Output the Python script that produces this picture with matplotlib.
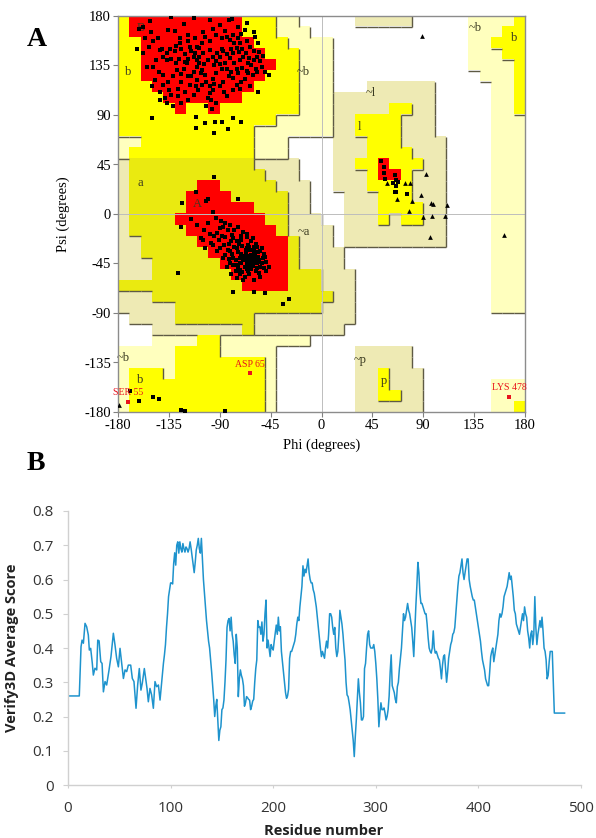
import numpy as np
import matplotlib
matplotlib.use("Agg")
import matplotlib.pyplot as plt
from matplotlib.colors import ListedColormap
from matplotlib.collections import LineCollection

plt.rcParams['axes.unicode_minus'] = False

# ---------------- Panel A data: Ramachandran region map (10 deg cells) -------------
# rows from psi 180 (top) down to -180, columns phi -180 .. 180
region_rows = [
    "Y" + "R"*10 + "YYY" + "LL" + "....." + "KKKKK" + "....." + "LLLL" + "Y",
    "Y" + "R"*10 + "YYY" + "LLL" + "."*14 + "LLL" + "YY",
    "YY" + "R"*10 + "YYY" + "LLLL" + "."*12 + "LL" + "YYY",
    "YY" + "R"*11 + "YYY" + "LLL" + "."*12 + "LLL" + "YY",
    "YY" + "R"*12 + "YY" + "LLL" + "."*12 + "LLLL" + "Y",
    "YY" + "R"*11 + "YYY" + "LLL" + "."*13 + "LLL" + "Y",
    "YYY" + "R"*9 + "YYYY" + "LLL" + "..." + "KKKKKK" + "....." + "LL" + "Y",
    "YYYY" + "R"*7 + "YYYYY" + "LLL" + "K"*9 + "....." + "LL" + "Y",
    "YYYYY" + "R" + "YY" + "R" + "YYYYYYY" + "LLL" + "KKKKK" + "YY" + "KK" + "....." + "LL" + "Y",
    "Y"*14 + "LLLLL" + "KK" + "YYYY" + "KKK" + "....." + "LLL",
    "Y"*12 + "L"*7 + "KK" + "YYYY" + "KKK" + "....." + "LLL",
    "LL" + "Y"*10 + "LLL" + "...." + "KKK" + "YYY" + "KKKK" + "...." + "LLL",
    "L" + "Y"*11 + "LLL" + "...." + "KKK" + "YYYY" + "KKK" + "...." + "LLL",
    "K" + "y"*11 + "KKKK" + "..." + "KK" + "YY" + "R" + "YYY" + "KK" + "...." + "LLL",
    "K" + "y"*12 + "KKK" + "..." + "KKK" + "Y" + "RR" + "Y" + "KKK" + "...." + "LLL",
    "K" + "y"*6 + "RR" + "y"*5 + "KKK" + ".." + "KKK" + "YYYY" + "KKK" + "...." + "LLL",
    "K" + "y"*5 + "RRRR" + "y"*5 + "KK" + "..." + "KKK" + "YYY" + "KKK" + "...." + "LLL",
    "K" + "y"*5 + "R"*6 + "yyy" + "KK" + "..." + "KKK" + "YYYY" + "KK" + "...." + "LLL",
    "K" + "yyyy" + "R"*8 + "yy" + "KKK" + ".." + "KKK" + "Y" + "K" + "YY" + "KK" + "...." + "LLL",
    "K" + "y"*5 + "R"*8 + "y" + "KKKK" + "." + "K"*9 + "...." + "LLL",
    "KK" + "y"*5 + "R"*8 + "y" + "KKK" + "." + "K"*9 + "...." + "LLL",
    "KK" + "y"*6 + "R"*7 + "y" + "KKKK" + "."*13 + "LLL",
    "KKK" + "y"*6 + "R"*6 + "y" + "KKKK" + "."*13 + "LLL",
    "KKK" + "y"*7 + "R"*5 + "yyy" + "KKK" + "."*12 + "LLL",
    "y"*11 + "RRRR" + "yyy" + "KKK" + "."*12 + "LLL",
    "KKK" + "y"*16 + "KK" + "."*12 + "LLL",
    "K"*5 + "y"*13 + "KKK" + "."*12 + "LLL",
    "." + "KKKK" + "y"*7 + "K"*9 + "."*15,
    "..." + "K"*8 + "y" + "K"*8 + "."*16,
    "..." + "LLLL" + "YY" + "L"*8 + "."*19,
    "LLLLL" + "YYYY" + "LLLLL" + "."*7 + "KKKKK" + "."*10,
    "L"*5 + "Y"*8 + "L" + "."*7 + "K"*5 + "."*10,
    "L" + "YYY" + "L" + "Y"*8 + "L" + "."*7 + "KK" + "Y" + "KKK" + "."*9,
    "L" + "Y"*12 + "L" + "."*7 + "KK" + "Y" + "KKK" + "."*6 + "LLL",
    "L" + "Y"*12 + "L" + "."*7 + "KK" + "YY" + "KK" + "."*6 + "LLL",
    "L" + "Y"*12 + "L" + "."*7 + "K"*6 + "."*6 + "LL" + "Y",
]
region_codes = [".", "L", "K", "y", "Y", "R"]
region_colors = ["#FFFFFF", "#FFFFBE", "#EEEAB4", "#EAEA10", "#FFFF00", "#FF0000"]
region_level = {".": 0, "L": 1, "K": 1, "y": 2, "Y": 2, "R": 3}

region_labels = ["B", "b", "~b", "a", "A", "~a", "~l", "l", "~b", "b", "~b", "b", "~p", "p"]
region_label_phi = [-160, -171, -16, -160, -110, -16, 44, 34, 136, 170, -175, -160, 34, 55]
region_label_psi = [169, 129, 129, 28, 9, -16, 110, 79, 169, 160, -131, -151, -133, -152]

# residues in core beta region (non-gly, squares)
phi_beta = [-133, -113, -82, -79, -152, -158, -161, -151, -136, -130, -149, -153, -158, -143, -140, -137,
            -134, -130, -125, -124, -121, -118, -116, -115, -113, -110, -108, -119, -122, -128, -131, -136,
            -140, -143, -138, -133, -127, -124, -118, -113, -110, -106, -103, -102, -99, -96, -93, -88,
            -85, -81, -78, -75, -72, -85, -84, -81, -78, -74, -71, -68, -66, -63, -60, -57, -54, -53, -50,
            -56, -59, -69, -72, -77, -75, -80, -82, -87, -90, -96, -99, -100, -102, -97, -93, -84, -78,
            -75, -71, -68, -65, -63, -56, -46, -57, -65, -105, -108, -99, -96, -93, -90, -87, -99, -103,
            -106, -110, -146, -149, -144, -140, -147, -150, -143, -137, -131, -124, -118, -113, -109, -106,
            -110, -116, -121, -127,
            -100, -95, -92, -88, -84, -80, -77, -73, -70, -67, -64, -62, -60, -58, -66, -70, -74, -78, -84,
            -90, -104, -108, -112, -118, -121, -126, -129, -133, -137, -141, -129, -125, -118, -112, -105,
            -96, -90, -88, -93, -74, -66, -60, -55, -52, -61, -72, -86, -98, -135, -145, -156, -163, -154,
            -122, -99, -107, -115, -124, -111, -95,
            -150, -111, -103, -94, -88, -78, -71, -111, -95, -83]
psi_beta = [179, 178, 176, 177, 175, 170, 168, 165, 167, 166, 157, 152, 146, 149, 143, 140,
            150, 148, 155, 150, 145, 157, 152, 148, 143, 140, 137, 137, 132, 131, 125, 120,
            117, 111, 105, 108, 114, 120, 125, 129, 134, 131, 126, 120, 116, 123, 128, 132,
            137, 142, 146, 151, 155, 166, 161, 158, 163, 160, 164, 167, 157, 152, 148, 143, 139, 134, 129,
            155, 161, 143, 140, 137, 132, 129, 125, 120, 116, 113, 110, 105, 98, 95, 101, 107, 113,
            117, 120, 123, 128, 116, 111, 126, 129, 137, 146, 151, 149, 143, 139, 143, 148, 157, 161,
            155, 152, 140, 134, 129, 126, 122, 116, 104, 101, 98, 101, 104, 108, 113, 117,
            122, 117, 111, 107,
            140, 135, 146, 150, 145, 150, 155, 147, 150, 146, 142, 135, 140, 132, 130, 133, 128, 124, 132,
            136, 136, 143, 146, 141, 138, 141, 137, 141, 146, 150, 153, 160, 163, 160, 165,
            168, 172, 160, 163, 170, 174, 165, 147, 144, 126, 114, 111, 104, 113, 160, 160, 150, 134,
            173, 176, 128, 125, 127, 116, 118,
            87, 88, 83, 84, 84, 87, 84, 78, 74, 77]

# residues in alpha region (non-gly, squares)
phi_alpha = [-96, -124, -90, -85, -81, -77, -74, -69, -85, -91, -105, -103, -82, -78, -71, -66, -62, -57,
             -54, -50, -46, -49, -54, -60, -68, -72, -75, -78, -81, -85, -90, -96, -75, -71, -66, -62, -59,
             -63, -66, -69, -71, -65, -57, -53, -56, -60, -81, -76, -72,
             -127, -78, -60, -50, -34, -29, -95, -74, -123, -111, -102, -100,
             -64, -62, -60, -67, -69, -58, -61, -66, -70, -63, -57, -55, -59, -65, -68, -72, -74, -76, -62,
             -58, -54, -52, -56, -60, -65, -70, -73, -77, -79, -83, -86, -80, -88, -92, -95, -99, -83, -87,
             -79, -66, -71, -61, -58, -53, -51, -49, -51, -55, -64, -70, -74, -78, -82, -67, -63, -59, -61,
             -66, -72, -56, -68, -64, -75, -104, -110, -100, -93, -89, -115, -107, -98, -92, -87, -84, -80,
             -75, -69]
psi_alpha = [2, -12, -13, -8, -10, -15, -12, -16, -21, -24, -24, -31, -27, -22, -24, -21, -25, -30,
             -34, -39, -48, -52, -57, -60, -57, -51, -46, -40, -34, -37, -31, -28, -31, -36, -31, -37, -43,
             -48, -43, -40, -45, -52, -49, -45, -39, -34, -45, -52, -55,
             -54, -71, -71, -72, -82, -77, 34, 14, 10, 20, 12, 14,
             -38, -41, -44, -36, -42, -39, -47, -46, -38, -33, -45, -42, -36, -41, -48, -40, -35, -42, -50,
             -52, -48, -40, -35, -30, -28, -29, -27, -30, -36, -33, -28, -25, -20, -17, -20, -18, -15, -12,
             -19, -18, -20, -22, -27, -31, -36, -44, -49, -54, -55, -53, -48, -46, -41, -33, -45, -41, -37,
             -50, -45, -44, -39, -30, -25, -15, -10, -8, -4, -6, -5, -22, -26, -34, -40, -48, -55,
             -58, -60]

# residues in lower beta / other areas (non-gly, squares)
phi_other = [-169, -161, -149, -144, -124, -121, -85, 53, 55, 55, 56, 65, 66, 63, 66, 68, 65, 66, 76]
psi_other = [-161, -170, -166, -168, -178, -179, -179, 48, 43, 37, 32, 35, 31, 28, 25, 29, 20, 20, 18]

# glycine residues (triangles)
phi_gly = [89, 58, 74, 78, 92, 67, 80, 88, 97, 99, 111, 77, 90, 98, 109, 96, -179, 161]
psi_gly = [162, 28, 28, 28, 36, 14, 12, 17, 10, 9, 8, 3, -3, -2, -2, -21, -174, -19]

# outliers (labelled, red)
outlier_names = ["SER 55", "ASP 65", "LYS 478"]
outlier_phi = [-171, -63, 166]
outlier_psi = [-171, -145, -166]

phi_ticks = [-180, -135, -90, -45, 0, 45, 90, 135, 180]

# ---------------- Panel B data: Verify3D profile ----------------
residue = [0, 11, 12.7, 13.7, 15, 16.6, 18.2, 19.8, 20.8, 22.1, 23.7, 24.7, 26.3, 28, 29, 30.3, 31.9, 33.2,
           34.5, 36.1, 37.7, 40, 41.9, 44.2, 45.8, 47.4, 49.1, 50.7, 52.3, 54, 55.6, 57.2, 58.8, 61.1, 62.7,
           64.3, 66.3, 67.9, 69.5, 71.1, 72.4, 74.4, 75.7, 77, 78.3, 79.9, 81.5, 83.2, 84.8, 86.4, 88.1, 89.7,
           91, 92, 93, 94, 95, 96, 97, 98, 99, 100, 101, 102, 103, 104, 105, 106, 107, 108, 109, 110, 111,
           112, 113, 114, 115, 116, 117, 118, 119, 120, 121, 122, 123, 124, 125, 126, 127, 128, 129, 130,
           131, 132, 133, 134, 135, 136, 137, 138, 139, 140, 141, 142, 143, 144, 145, 146, 147, 148, 149,
           150, 151, 152, 153, 154, 155, 156, 157, 158, 159, 160, 161, 162, 163, 164, 165, 166, 167, 168,
           169, 170, 171, 172, 173, 174, 175, 176, 177, 178, 179, 180, 181, 182, 183, 184, 185, 186, 187,
           188, 189, 190, 191, 192, 193, 194, 195, 196, 197, 198, 199, 200, 201, 202, 203, 204, 205, 206,
           207, 208, 209, 210, 211, 212, 213, 214, 215, 216, 217, 218, 219, 220, 221, 222, 223, 224, 225,
           226, 227, 228, 229, 230, 231, 232, 233, 234, 235, 236, 237, 238, 239, 240, 241, 242, 243, 244,
           245, 246, 247, 248, 249, 250, 251, 252, 253, 254, 255, 256, 257, 258, 259, 260, 261, 262, 263,
           264, 265, 266, 267, 268, 269, 270, 271, 272, 273, 274, 275, 276, 277, 278, 279, 280, 281, 282,
           283, 284, 285, 286, 287, 288, 289, 290, 291, 292, 293, 294, 295, 296, 297, 298, 299, 300, 301,
           302, 303, 304, 305, 306, 307, 308, 309, 310, 311, 312, 313, 314, 315, 316, 317, 318, 319, 320,
           321, 322, 323, 324, 325, 326, 327, 328, 329, 330, 331, 332, 333, 334, 335, 336, 337, 338, 339,
           340, 341, 342, 343, 344, 345, 346, 347, 348, 349, 350, 351, 352, 353, 354, 355, 356, 357, 358,
           359, 360, 361, 362, 363, 364, 365, 366, 367, 368, 369, 370, 371, 372, 373, 374, 375, 376, 377,
           378, 379, 380, 381, 382, 383, 384, 385, 386, 387, 388, 389, 390, 391, 392, 393, 394, 395, 396,
           397, 398, 399, 400, 401, 402, 403, 404, 405, 406, 407, 408, 409, 410, 411, 412, 413, 414, 415,
           416, 417, 418, 419, 420, 421, 422, 423, 424, 425, 426, 427, 428, 429, 430, 431, 432, 433, 434,
           435, 436, 437, 438, 439, 440, 441, 442, 443, 444, 445, 446, 447, 448, 449, 450, 451, 452, 453,
           454, 455, 456, 457, 458, 459, 460, 461, 462, 463, 464, 465, 466, 467, 468, 469, 470, 471, 472,
           473, 474, 484]
score = [0.26, 0.26, 0.404, 0.423, 0.414, 0.472, 0.462, 0.438, 0.394, 0.399, 0.355, 0.321, 0.341, 0.336,
         0.423, 0.421, 0.36, 0.355, 0.272, 0.302, 0.292, 0.336, 0.375, 0.443, 0.409, 0.37, 0.345, 0.399,
         0.355, 0.311, 0.336, 0.331, 0.35, 0.35, 0.311, 0.302, 0.224, 0.292, 0.34, 0.277, 0.297, 0.34,
         0.311, 0.282, 0.243, 0.282, 0.263, 0.224, 0.302, 0.287, 0.292, 0.248,
         0.29, 0.32, 0.355, 0.38, 0.41, 0.46, 0.50, 0.55, 0.57, 0.59, 0.59, 0.587, 0.647, 0.678, 0.642,
         0.70, 0.71, 0.677, 0.71, 0.69, 0.68, 0.705, 0.69, 0.68, 0.695, 0.69, 0.68, 0.69, 0.71, 0.69,
         0.666, 0.64, 0.62, 0.65, 0.686, 0.70, 0.72, 0.69, 0.677, 0.72, 0.66, 0.60, 0.56, 0.52, 0.48,
         0.45, 0.42, 0.40, 0.365, 0.33, 0.29, 0.25, 0.20, 0.23, 0.25, 0.19, 0.13, 0.16, 0.17, 0.22, 0.225,
         0.248, 0.30, 0.365, 0.46, 0.48, 0.486, 0.45, 0.49, 0.44, 0.42, 0.38, 0.355, 0.44, 0.40, 0.258,
         0.31, 0.336, 0.32, 0.31, 0.29, 0.23, 0.24, 0.258, 0.255, 0.25, 0.248, 0.22, 0.23, 0.245, 0.25,
         0.30, 0.34, 0.365, 0.48, 0.46, 0.462, 0.44, 0.476, 0.42, 0.44, 0.50, 0.54, 0.40, 0.423, 0.40,
         0.375, 0.41, 0.40, 0.394, 0.42, 0.443, 0.467, 0.44, 0.49, 0.45, 0.462, 0.39, 0.36, 0.33, 0.30,
         0.27, 0.253, 0.26, 0.28, 0.37, 0.39, 0.39, 0.40, 0.41, 0.42, 0.44, 0.47, 0.49, 0.48, 0.52, 0.55,
         0.58, 0.64, 0.61, 0.63, 0.62, 0.64, 0.66, 0.62, 0.60, 0.59, 0.59, 0.57, 0.56, 0.54, 0.52, 0.49,
         0.46, 0.43, 0.40, 0.375, 0.39, 0.38, 0.37, 0.40, 0.42, 0.40, 0.44, 0.50, 0.50, 0.49, 0.46, 0.44,
         0.46, 0.40, 0.375, 0.39, 0.44, 0.51, 0.49, 0.47, 0.44, 0.40, 0.365, 0.30, 0.263, 0.258, 0.24,
         0.22, 0.19, 0.16, 0.13, 0.083, 0.14, 0.19, 0.25, 0.31, 0.27, 0.24, 0.19, 0.19, 0.20, 0.34, 0.355,
         0.40, 0.44, 0.45, 0.41, 0.40, 0.40, 0.40, 0.41, 0.39, 0.355, 0.31, 0.25, 0.17, 0.21, 0.24, 0.22,
         0.22, 0.225, 0.21, 0.19, 0.20, 0.22, 0.26, 0.33, 0.38, 0.29, 0.28, 0.27, 0.25, 0.24, 0.287, 0.30,
         0.34, 0.37, 0.40, 0.45, 0.50, 0.48, 0.49, 0.51, 0.53, 0.51, 0.50, 0.48, 0.46, 0.42, 0.375, 0.45,
         0.52, 0.58, 0.65, 0.62, 0.56, 0.53, 0.53, 0.52, 0.51, 0.50, 0.50, 0.47, 0.43, 0.40, 0.39, 0.385,
         0.40, 0.45, 0.40, 0.385, 0.39, 0.38, 0.37, 0.365, 0.34, 0.31, 0.35, 0.375, 0.38, 0.34, 0.30,
         0.33, 0.37, 0.39, 0.41, 0.42, 0.44, 0.445, 0.46, 0.50, 0.54, 0.58, 0.61, 0.62, 0.64, 0.66, 0.62,
         0.60, 0.62, 0.64, 0.66, 0.66, 0.60, 0.58, 0.565, 0.55, 0.54, 0.54, 0.52, 0.50, 0.48, 0.46, 0.44,
         0.42, 0.39, 0.365, 0.35, 0.336, 0.31, 0.30, 0.29, 0.29, 0.33, 0.375, 0.39, 0.40, 0.36, 0.38,
         0.40, 0.42, 0.44, 0.48, 0.50, 0.49, 0.50, 0.52, 0.55, 0.56, 0.57, 0.58, 0.60, 0.62, 0.60, 0.61,
         0.58, 0.55, 0.51, 0.50, 0.47, 0.46, 0.45, 0.44, 0.46, 0.48, 0.50, 0.48, 0.52, 0.50, 0.49, 0.45,
         0.43, 0.40, 0.44, 0.45, 0.41, 0.44, 0.55, 0.46, 0.41, 0.44, 0.46, 0.48, 0.46, 0.49, 0.45, 0.40,
         0.39, 0.365, 0.31, 0.32, 0.36, 0.39, 0.39, 0.39, 0.30, 0.21, 0.21]

score_ticks = [0, 0.1, 0.2, 0.3, 0.4, 0.5, 0.6, 0.7, 0.8]
score_ticklabels = ["0", "0.1", "0.2", "0.3", "0.4", "0.5", "0.6", "0.7", "0.8"]
residue_ticks = [0, 100, 200, 300, 400, 500]

# ---------------- Figure ----------------
SERIF = ["Liberation Serif", "DejaVu Serif"]
SANS = ["Open Sans", "DejaVu Sans"]

fig = plt.figure(figsize=(5.96, 8.38), dpi=100)

# ---- Panel A ----
axA = fig.add_axes([118/596, 1-412/838, 407/596, 396/838])
grid = np.array([[region_codes.index(ch) for ch in row] for row in region_rows])
axA.imshow(grid, cmap=ListedColormap(region_colors), vmin=-0.5, vmax=len(region_codes)-0.5,
           extent=(-180, 180, -180, 180), origin="upper", interpolation="nearest", aspect="auto", zorder=0)

def edge_drawn(a, b):
    if "R" in (a, b):
        return False
    la, lb = region_level[a], region_level[b]
    return la > lb or (la == lb == 1 and a != b)

segs = []
nr, nc = len(region_rows), len(region_rows[0])
for r in range(nr):
    for c in range(nc - 1):
        if edge_drawn(region_rows[r][c], region_rows[r][c+1]):
            x = -180 + 10*(c+1)
            segs.append([(x, 180-10*(r+1)), (x, 180-10*r)])
for r in range(nr - 1):
    for c in range(nc):
        if edge_drawn(region_rows[r][c], region_rows[r+1][c]):
            y = 180 - 10*(r+1)
            segs.append([(-180+10*c, y), (-170+10*c, y)])
axA.add_collection(LineCollection(segs, colors="#5E5A44", linewidths=1.0, zorder=1))

axA.axhline(0, color="#BDBDBD", lw=0.7, zorder=1.5)
axA.axvline(0, color="#BDBDBD", lw=0.7, zorder=1.5)

for lab, x, y in zip(region_labels, region_label_phi, region_label_psi):
    axA.text(x, y, lab, family=SERIF, fontsize=9, color="#3A3A20", ha="center", va="center", zorder=2)

axA.plot(phi_beta, psi_beta, ls="none", marker="s", ms=3.0, color="black", mew=0, zorder=3)
axA.plot(phi_alpha, psi_alpha, ls="none", marker="s", ms=3.0, color="black", mew=0, zorder=3)
axA.plot(phi_other, psi_other, ls="none", marker="s", ms=3.0, color="black", mew=0, zorder=3)
axA.plot(phi_gly, psi_gly, ls="none", marker="^", ms=3.4, color="black", mew=0, zorder=3)
axA.plot(outlier_phi, outlier_psi, ls="none", marker="s", ms=3.0, color="#E8141E", mew=0, zorder=4)
for name, x, y in zip(outlier_names, outlier_phi, outlier_psi):
    axA.annotate(name, (x, y), xytext=(0, 3.5), textcoords="offset points", ha="center", va="bottom",
                 family=SERIF, fontsize=7, color="#E8141E", zorder=5)

axA.set_xlim(-180, 180)
axA.set_ylim(-180, 180)
axA.set_xticks(phi_ticks)
axA.set_yticks(phi_ticks)
axA.set_xticklabels([str(t) for t in phi_ticks])
axA.set_yticklabels([str(t) for t in phi_ticks])
axA.tick_params(length=3.5, width=0.8, color="#808080", pad=1.5, labelsize=10.5)
for lbl in axA.get_xticklabels() + axA.get_yticklabels():
    lbl.set_family(SERIF)
for s in axA.spines.values():
    s.set_color("#8C8C8C")
    s.set_linewidth(1.0)
axA.set_xlabel("Phi (degrees)", family=SERIF, fontsize=10.5)
axA.set_ylabel("Psi (degrees)", family=SERIF, fontsize=10.5)
axA.xaxis.set_label_coords(0.5, -0.068)
axA.yaxis.set_label_coords(-0.118, 0.5)

fig.text(37/596, 1-40/838, "A", family=SERIF, fontsize=20, fontweight="bold", ha="center", va="center")
fig.text(36/596, 1-463/838, "B", family=SERIF, fontsize=20, fontweight="bold", ha="center", va="center")

# ---- Panel B ----
axB = fig.add_axes([68/596, 1-785/838, 513/596, 274/838])
axB.plot(residue, score, color="#1E93CD", lw=1.1)
axB.set_xlim(0, 500)
axB.set_ylim(0, 0.8)
axB.set_xticks(residue_ticks)
axB.set_yticks(score_ticks)
axB.set_yticklabels(score_ticklabels)
for s in ["top", "right"]:
    axB.spines[s].set_visible(False)
for s in ["left", "bottom"]:
    axB.spines[s].set_color("#D0D0D0")
    axB.spines[s].set_linewidth(1.0)
axB.tick_params(axis="y", length=3.6, color="#D0D0D0", pad=6.5, labelsize=11, labelcolor="#333333")
axB.tick_params(axis="x", length=2.5, color="#D0D0D0", pad=9, labelsize=11, labelcolor="#333333")
for lbl in axB.get_xticklabels() + axB.get_yticklabels():
    lbl.set_family(SANS)
axB.set_xlabel("Residue number", family=SANS, fontsize=10.5, fontweight="bold", color="#222222")
axB.set_ylabel("Verify3D Average Score", family=SANS, fontsize=10.5, fontweight="bold", color="#222222")
axB.xaxis.set_label_coords(0.499, -0.143)
axB.yaxis.set_label_coords(-0.0955, 0.5)

fig.savefig("out.png", dpi=100)
